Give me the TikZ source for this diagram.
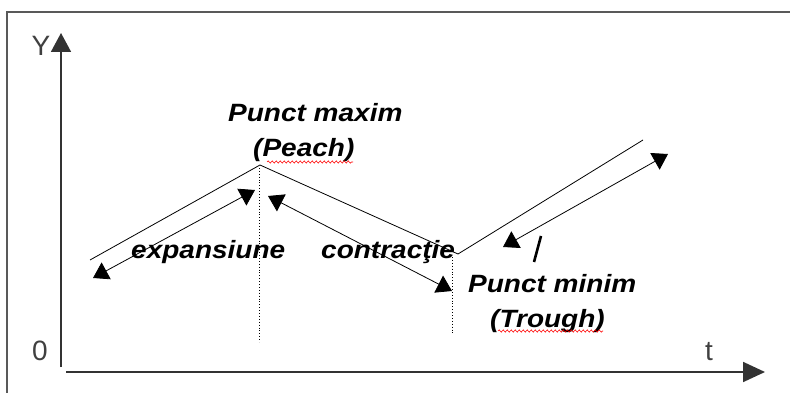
\documentclass[tikz,border=0pt]{standalone}
\usepackage{fontspec}
\setmainfont{Liberation Sans}
\newfontfamily\lblfont[FakeStretch=1.12]{Liberation Sans}
\usetikzlibrary{arrows.meta,decorations.pathmorphing}

\begin{document}
\begin{tikzpicture}[x=1pt,y=-1pt,
  thinln/.style={line width=0.8pt,black},
  dbl/.style={line width=0.8pt,{Triangle[length=15pt,width=19pt]}-{Triangle[length=15pt,width=19pt]}},
  axisln/.style={line width=1.8pt,draw=black!80},
  frameln/.style={line width=2pt,draw=black!65},
  lbl/.style={font=\lblfont\fontsize{25}{29}\selectfont\bfseries\itshape, inner sep=0pt, anchor=base west},
  axlbl/.style={font=\fontsize{28}{32}\selectfont, text=black!75, inner sep=0pt},
  squig/.style={red, line width=0.6pt, decorate, decoration={snake, amplitude=1.1pt, segment length=4pt}},
  vdot/.style={line width=0.9pt, dotted}
]
\useasboundingbox (0,0) rectangle (790,393);

% frame
\coordinate (fb) at (7,393);
\coordinate (ftl) at (7,12.5);
\coordinate (fr) at (790,12.5);
\draw[frameln] (fb) -- (ftl) -- (fr);

% axes
\coordinate (yb) at (61,367);
\coordinate (yt) at (61,33);
\coordinate (xl) at (66,372);
\coordinate (xr) at (765,372);
\draw[axisln,-{Triangle[length=19pt,width=20pt]}] (yb) -- (yt);
\draw[axisln,-{Triangle[length=22pt,width=20pt]}] (xl) -- (xr);
\node[axlbl] (ylab) at (41,46) {Y};
\node[axlbl] (zero) at (40,351) {0};
\node[axlbl] (tlab) at (709,352) {t};

% main cycle line
\coordinate (s) at (90,260);
\coordinate (pk) at (260,165);
\coordinate (tr) at (458,254);
\coordinate (en) at (643,140);
\draw[thinln] (s) -- (pk) -- (tr) -- (en);

% dotted verticals
\coordinate (pkb) at (259,342);
\coordinate (pkt) at (259,168);
\coordinate (trt) at (452,257);
\coordinate (trb) at (452,335);
\draw[vdot] (pkt) -- (pkb);
\draw[vdot] (trt) -- (trb);

% double arrows
\coordinate (ea) at (93,278);
\coordinate (eb) at (255,190);
\coordinate (ca) at (268,196);
\coordinate (cb) at (452,291);
\coordinate (ra) at (503,247);
\coordinate (rb) at (668,154);
\draw[dbl] (ea) -- (eb);
\draw[dbl] (ca) -- (cb);
\draw[dbl] (ra) -- (rb);

% slash mark
\coordinate (sla) at (541,236);
\coordinate (slb) at (534,262);
\draw[line width=2.6pt] (sla) -- (slb);

% labels
\node[lbl] (pmax) at (228,122) {Punct maxim};
\node[lbl] (peach) at (253,157) {(Peach)};
\node[lbl] (exp) at (131,258) {expansiune};
\node[lbl] (con) at (321,258) {contracţie};
\node[lbl] (pmin) at (468,292) {Punct minim};
\node[lbl] (trough) at (490,327) {(Trough)};

% spell-check squiggles
\coordinate (sq1a) at (267,162);
\coordinate (sq1b) at (353,162);
\coordinate (sq2a) at (498,331);
\coordinate (sq2b) at (603,331);
\draw[squig] (sq1a) -- (sq1b);
\draw[squig] (sq2a) -- (sq2b);
\end{tikzpicture}
\end{document}
